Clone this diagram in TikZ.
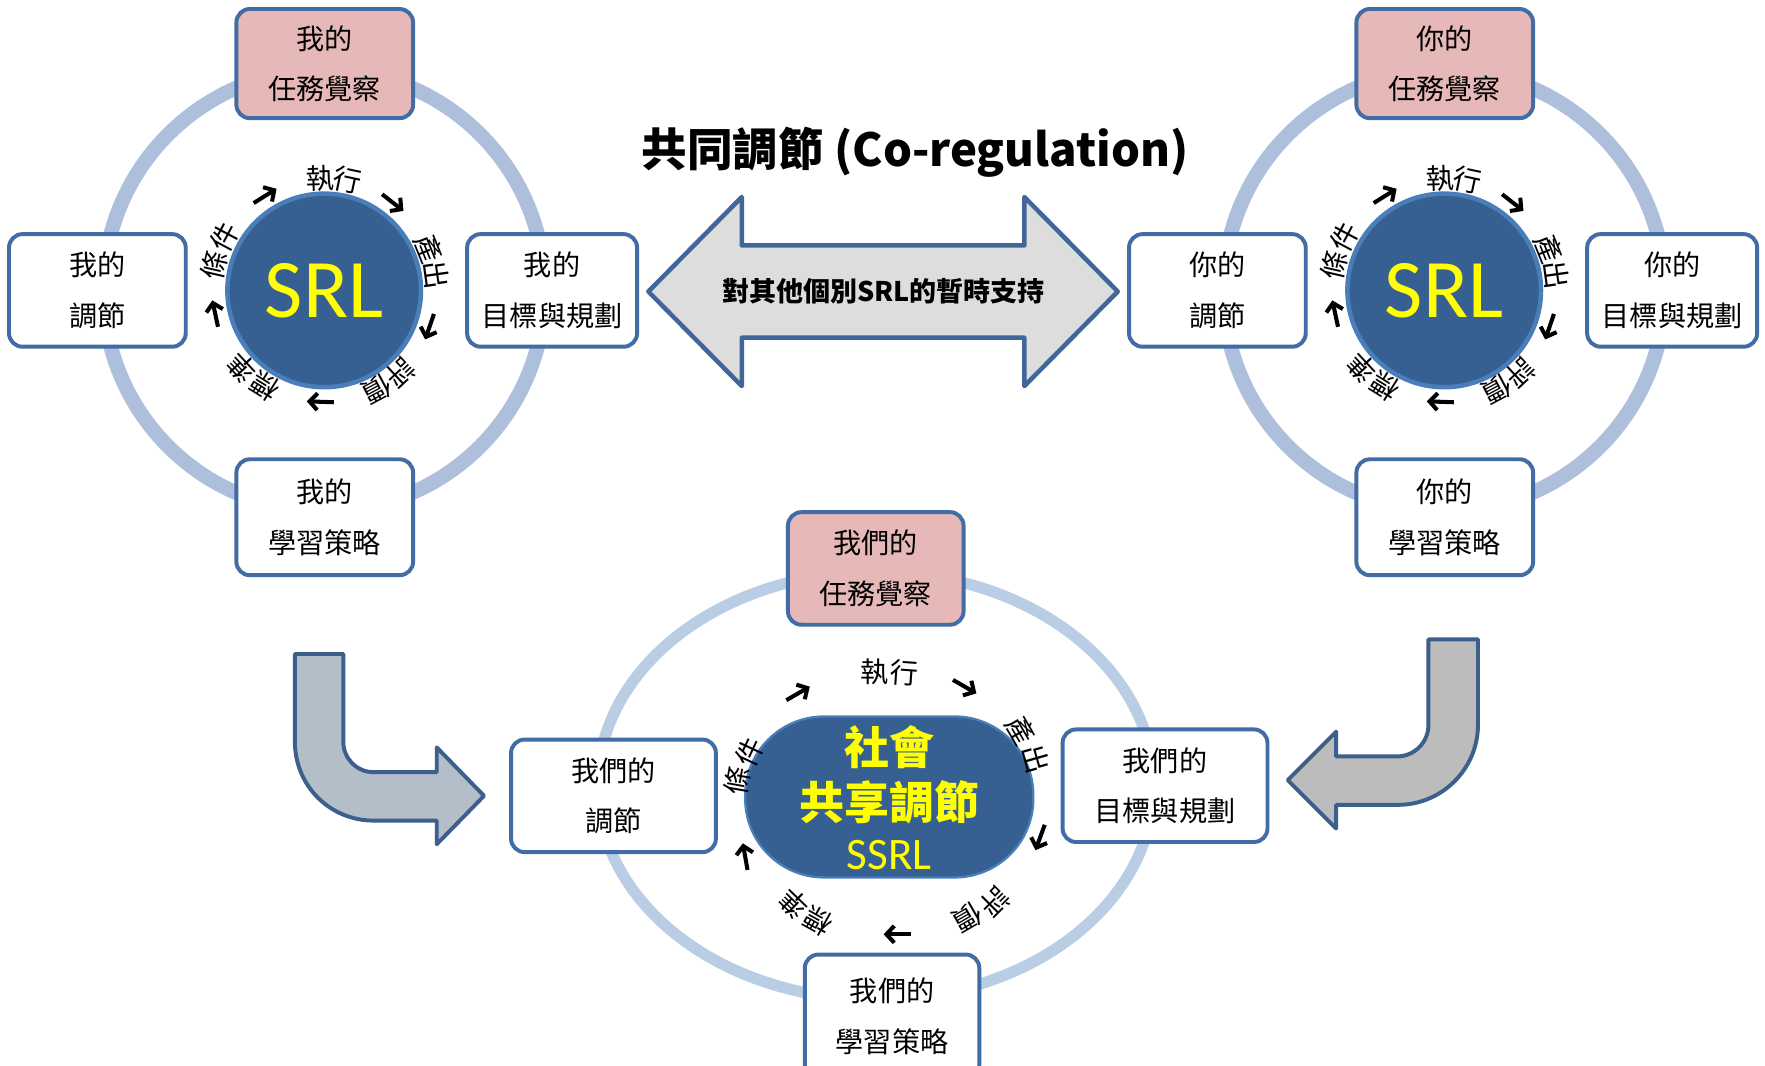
\documentclass[tikz,border=0pt]{standalone}
\usepackage{fontspec}
\newfontfamily\cjk{Noto Sans CJK TC}
\newfontfamily\carlito{Carlito}
\usetikzlibrary{arrows.meta}
\definecolor{boxblue}{RGB}{65,108,165}
\definecolor{pinkfill}{RGB}{230,185,184}
\definecolor{ringA}{RGB}{174,191,220}
\definecolor{ringB}{RGB}{185,205,229}
\definecolor{srlfill}{RGB}{55,96,146}
\definecolor{srlborder}{RGB}{74,126,187}
\definecolor{arrborder}{RGB}{60,95,140}
\definecolor{dblborder}{RGB}{65,102,154}
\definecolor{grayfill}{RGB}{221,221,221}
\definecolor{bentA}{RGB}{180,190,201}
\definecolor{bentB}{RGB}{188,188,188}
\definecolor{srlyellow}{RGB}{255,255,0}
\tikzset{
 box/.style={draw=boxblue, line width=3.5pt, rounded corners=12pt, fill=white, align=center, inner sep=0pt, font=\cjk\fontsize{25}{45}\selectfont},
 pinkbox/.style={box, fill=pinkfill},
 lbl/.style={font=\cjk\fontsize{25}{25}\selectfont, inner sep=0pt},
 smallarr/.style={line width=3.6pt, -{Straight Barb[length=7pt,width=15pt]}},
 srl/.style={circle, fill=srlfill, draw=srlborder, line width=4pt, minimum size=172pt, inner sep=0pt, text=srlyellow, font=\carlito\fontsize{74}{74}\selectfont},
 bentstyle/.style={draw=arrborder, line width=3.5pt, line join=round},
}
% #1 name, #2 cx, #3 cy, #4 angle, #5 radius, #6 char
\newcommand\ringchar[6]{\node[lbl, rotate={#4-90}] (#1) at ({(#2)+(#5)*cos(#4)},{(#3)-(#5)*sin(#4)}) {#6};}
% #1 name, #2 x, #3 y, #4 page direction
\newcommand\freearr[4]{%
 \coordinate (#1s) at ({(#2)-12*cos(#4)},{(#3)+12*sin(#4)});
 \coordinate (#1e) at ({(#2)+12*cos(#4)},{(#3)-12*sin(#4)});
 \draw[smallarr] (#1s) -- (#1e);}
% #1 name, #2 cx, #3 cy, #4 angle, #5 radius
\newcommand\ringarr[5]{\freearr{#1}{(#2)+(#5)*cos(#4)}{(#3)-(#5)*sin(#4)}{#4-90}}
% #1 x offset, #2 pronoun, #3 prefix
\newcommand\srlcluster[3]{%
 \draw[ringA, line width=13pt] ({#1+288},258) circle[radius=196pt];
 \node[pinkbox, minimum width=157pt, minimum height=97pt] (#3T) at ({#1+288.5},56.5) {#2的\\任務覺察};
 \node[box, minimum width=157pt, minimum height=100pt] (#3L) at ({#1+86.5},258) {#2的\\調節};
 \node[box, minimum width=151pt, minimum height=100pt] (#3R) at ({#1+490.5},258) {#2的\\目標與規劃};
 \node[box, minimum width=157pt, minimum height=103pt] (#3B) at ({#1+288.5},459.5) {#2的\\學習策略};
 \node[srl] (#3C) at ({#1+288},258) {SRL};
 \ringchar{#3c1}{#1+288}{258}{92}{100}{執}
 \ringchar{#3c2}{#1+288}{258}{78}{100}{行}
 \ringchar{#3c3}{#1+288}{258}{22}{100}{產}
 \ringchar{#3c4}{#1+288}{258}{8}{100}{出}
 \ringchar{#3c5}{#1+288}{258}{-47}{100}{評}
 \ringchar{#3c6}{#1+288}{258}{-62}{100}{價}
 \ringchar{#3c7}{#1+288}{258}{-122}{100}{標}
 \ringchar{#3c8}{#1+288}{258}{-137}{100}{準}
 \ringchar{#3c9}{#1+288}{258}{167}{100}{條}
 \ringchar{#3c10}{#1+288}{258}{152}{100}{件}
 \ringarr{#3a1}{#1+288}{258}{122}{99}
 \ringarr{#3a2}{#1+288}{258}{52}{99}
 \ringarr{#3a3}{#1+288}{258}{-19}{99}
 \ringarr{#3a4}{#1+288}{258}{-92}{99}
 \ringarr{#3a5}{#1+288}{258}{-168}{99}
}
\begin{document}
\begin{tikzpicture}[x=1pt,y=-1pt]
\useasboundingbox (0,0) rectangle (1568,947);
\clip (0,0) rectangle (1568,947);
\fill[white] (0,0) rectangle (1568,947);

\srlcluster{0}{我}{A}
\srlcluster{995}{你}{B}

% middle title and double arrow
\node[font=\cjk\bfseries\fontsize{40.5}{40.5}\selectfont, inner sep=0pt] (TT) at (813,135) {共同調節 (Co-regulation)};
\draw[draw=dblborder, fill=grayfill, line width=4pt, line join=round]
 (576,259) -- (659,175) -- (659,218) -- (910,218) -- (910,175) -- (993,259)
 -- (910,343) -- (910,300) -- (659,300) -- (659,343) -- cycle;
\node[font=\cjk\bfseries\fontsize{24}{24}\selectfont, inner sep=0pt] (DA) at (785,259) {對其他個別SRL的暫時支持};

% bent arrows
\draw[bentstyle, fill=bentA] (262,581) -- (305,581) -- (305,659)
 .. controls (305,674) and (317,686) .. (332,686) -- (388,686) -- (388,664)
 -- (430,707) -- (388,750) -- (388,729) -- (332,729)
 .. controls (293,729) and (262,698) .. (262,659) -- cycle;
\draw[bentstyle, fill=bentB] (1313,568) -- (1269,568) -- (1269,644)
 .. controls (1269,659.5) and (1256.5,672) .. (1241,672) -- (1187,672) -- (1187,650)
 -- (1144,693) -- (1187,736) -- (1187,715) -- (1242,715)
 .. controls (1281,715) and (1313,683) .. (1313,644) -- cycle;

% bottom cluster
\draw[ringB, line width=10pt] (778,698) ellipse [x radius=247pt, y radius=190pt];
\node[pinkbox, minimum width=156pt, minimum height=100pt] (CT) at (778,505) {我們的\\任務覺察};
\node[box, minimum width=182pt, minimum height=100pt] (CL) at (545,707) {我們的\\調節};
\node[box, minimum width=182pt, minimum height=100pt] (CR) at (1035,698) {我們的\\目標與規劃};
\node[box, minimum width=155pt, minimum height=110pt] (CB) at (792.5,903) {我們的\\學習策略};
\node[rectangle, rounded corners=70pt, minimum width=256pt, minimum height=143pt, fill=srlfill, draw=srlborder, line width=2pt] (S3) at (790,708) {};
\node[font=\cjk\bfseries\fontsize{40}{40}\selectfont, text=srlyellow, inner sep=0pt] (S3a) at (790,664) {社會};
\node[font=\cjk\bfseries\fontsize{40}{40}\selectfont, text=srlyellow, inner sep=0pt] (S3b) at (790,713) {共享調節};
\node[font=\carlito\fontsize{40}{40}\selectfont, text=srlyellow, inner sep=0pt] (S3c) at (790,760) {SSRL};

\node[lbl] (Cc1) at (777,597) {執};
\node[lbl, rotate=-4] (Cc2) at (803,598) {行};
\node[lbl, rotate=-60] (Cc3) at (907,649) {產};
\node[lbl, rotate=-74] (Cc4) at (920,674) {出};
\node[lbl, rotate=-135] (Cc5) at (884,801) {評};
\node[lbl, rotate=-150] (Cc6) at (860,815) {價};
\node[lbl, rotate=151] (Cc7) at (727,818) {標};
\node[lbl, rotate=136] (Cc8) at (705,803) {準};
\node[lbl, rotate=80] (Cc9) at (655,694) {條};
\node[lbl, rotate=65] (Cc10) at (666,668) {件};
\freearr{Ca1}{709}{616}{30}
\freearr{Ca2}{857}{610}{-30}
\freearr{Ca3}{924}{744}{-110}
\freearr{Ca4}{797}{830}{180}
\freearr{Ca5}{662}{761}{100}
\end{tikzpicture}
\end{document}
